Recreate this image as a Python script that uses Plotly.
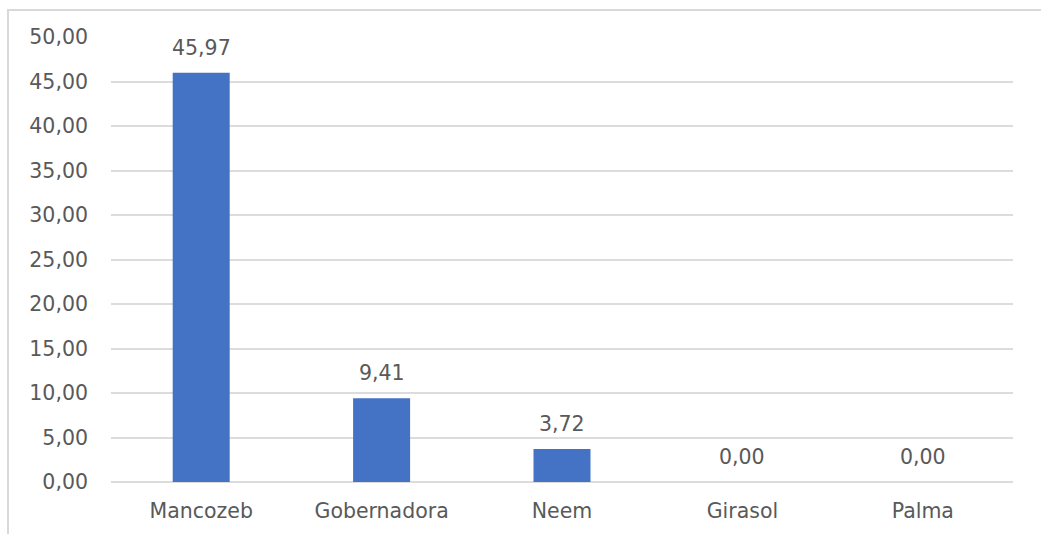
import plotly.graph_objects as go

# Tratamientos y valores (%)
categories = ["Mancozeb", "Gobernadora", "Neem", "Girasol", "Palma"]
values = [45.97, 9.41, 3.72, 0.00, 0.00]
y_ticks = [0, 5, 10, 15, 20, 25, 30, 35, 40, 45, 50]


def fmt(v):
    return f"{v:.2f}".replace(".", ",")


W, H = 1041, 534
ML, MR, MT, MB = 111, 28, 37, 52
FONT = "DejaVu Sans"
TXT = "#595959"
FS = 20.5

fig = go.Figure(
    go.Bar(
        x=categories,
        y=values,
        marker=dict(color="#4472C4", line=dict(width=0)),
        hoverinfo="skip",
    )
)

for c, v in zip(categories, values):
    fig.add_annotation(
        x=c, y=v, text=fmt(v), showarrow=False,
        yanchor="middle", yshift=25,
        font=dict(family=FONT, size=FS, color=TXT),
    )

# outer frame of the chart (cut off on the right and bottom)
pw = W - ML - MR
ph = H - MT - MB
fig.add_shape(
    type="path", xref="paper", yref="paper",
    path=(f"M {(W + 10 - ML) / pw},{(H - MB - 10) / ph} "
          f"L {(8 - ML) / pw},{(H - MB - 10) / ph} "
          f"L {(8 - ML) / pw},{(H - MB - H - 10) / ph}"),
    line=dict(color="#d9d9d9", width=2),
)

fig.update_layout(
    width=W, height=H,
    margin=dict(l=ML, r=MR, t=MT, b=MB),
    paper_bgcolor="white", plot_bgcolor="white",
    bargap=0.684,
    showlegend=False,
    font=dict(family=FONT, size=FS, color=TXT),
    xaxis=dict(
        showgrid=False, showline=False, zeroline=False,
        ticks="", ticklabelstandoff=14,
        tickfont=dict(family=FONT, size=FS, color=TXT),
    ),
    yaxis=dict(
        range=[0, 50], tickvals=y_ticks,
        ticktext=[fmt(t) for t in y_ticks],
        showgrid=True, gridcolor="#dcdcdc", gridwidth=2,
        zeroline=True, zerolinecolor="#dcdcdc", zerolinewidth=2,
        showline=False, ticks="", ticklabelstandoff=22,
        tickfont=dict(family=FONT, size=FS, color=TXT),
    ),
)

fig.write_html("out.html")
